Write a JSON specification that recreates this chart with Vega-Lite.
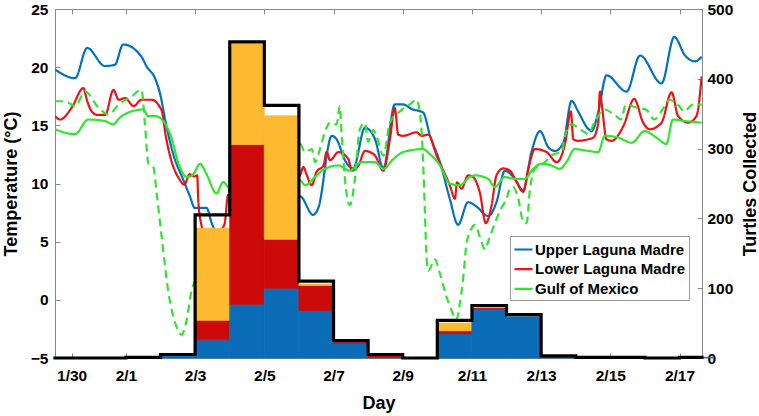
{
  "$schema": "https://vega.github.io/schema/vega-lite/v6.json",
  "width": 647,
  "height": 349,
  "autosize": {"type": "none"},
  "padding": {"left": 55, "top": 9, "right": 57, "bottom": 58},
  "config": {
    "font": "Liberation Sans",
    "view": {"stroke": "#888888", "strokeWidth": 1},
    "axis": {
      "domainColor": "#888888",
      "tickColor": "#888888",
      "labelColor": "#000000",
      "labelFont": "Liberation Sans",
      "labelFontWeight": "bold",
      "labelFontSize": 15.5,
      "titleFont": "Liberation Sans",
      "titleFontWeight": "bold",
      "titleFontSize": 18,
      "titleColor": "#000000",
      "grid": false,
      "tickSize": -5
    }
  },
  "datasets": {
    "temps": [
      {"s": "Upper Laguna Madre", "d": -1.05, "t": 19.8},
      {"s": "Upper Laguna Madre", "d": -0.47, "t": 19.05},
      {"s": "Upper Laguna Madre", "d": -0.12, "t": 21.65},
      {"s": "Upper Laguna Madre", "d": 0.39, "t": 20.1},
      {"s": "Upper Laguna Madre", "d": 0.68, "t": 20.2},
      {"s": "Upper Laguna Madre", "d": 0.92, "t": 21.95},
      {"s": "Upper Laguna Madre", "d": 1.45, "t": 20.9},
      {"s": "Upper Laguna Madre", "d": 1.6, "t": 20.05},
      {"s": "Upper Laguna Madre", "d": 1.84, "t": 19.05},
      {"s": "Upper Laguna Madre", "d": 1.98, "t": 17.8},
      {"s": "Upper Laguna Madre", "d": 2.18, "t": 14.8},
      {"s": "Upper Laguna Madre", "d": 2.37, "t": 12.5},
      {"s": "Upper Laguna Madre", "d": 2.66, "t": 10.3},
      {"s": "Upper Laguna Madre", "d": 2.85, "t": 8.9},
      {"s": "Upper Laguna Madre", "d": 2.99, "t": 7.9},
      {"s": "Upper Laguna Madre", "d": 3.33, "t": 7.9},
      {"s": "Upper Laguna Madre", "d": 3.48, "t": 6.6},
      {"s": "Upper Laguna Madre", "d": 3.7, "t": 5.3},
      {"s": "Upper Laguna Madre", "d": 4.5, "t": 4.5},
      {"s": "Upper Laguna Madre", "d": 5.5, "t": 6.0},
      {"s": "Upper Laguna Madre", "d": 6.03, "t": 8.9},
      {"s": "Upper Laguna Madre", "d": 6.41, "t": 7.3},
      {"s": "Upper Laguna Madre", "d": 6.56, "t": 7.9},
      {"s": "Upper Laguna Madre", "d": 6.95, "t": 14.1},
      {"s": "Upper Laguna Madre", "d": 7.09, "t": 13.8},
      {"s": "Upper Laguna Madre", "d": 7.33, "t": 12.0},
      {"s": "Upper Laguna Madre", "d": 7.57, "t": 11.3},
      {"s": "Upper Laguna Madre", "d": 7.91, "t": 14.8},
      {"s": "Upper Laguna Madre", "d": 8.2, "t": 13.8},
      {"s": "Upper Laguna Madre", "d": 8.44, "t": 11.3},
      {"s": "Upper Laguna Madre", "d": 8.77, "t": 16.8},
      {"s": "Upper Laguna Madre", "d": 9.01, "t": 16.8},
      {"s": "Upper Laguna Madre", "d": 9.26, "t": 16.4},
      {"s": "Upper Laguna Madre", "d": 9.59, "t": 16.1},
      {"s": "Upper Laguna Madre", "d": 9.79, "t": 14.1},
      {"s": "Upper Laguna Madre", "d": 10.08, "t": 11.8},
      {"s": "Upper Laguna Madre", "d": 10.36, "t": 8.7},
      {"s": "Upper Laguna Madre", "d": 10.6, "t": 6.45},
      {"s": "Upper Laguna Madre", "d": 10.89, "t": 8.4},
      {"s": "Upper Laguna Madre", "d": 11.14, "t": 8.0},
      {"s": "Upper Laguna Madre", "d": 11.47, "t": 7.2},
      {"s": "Upper Laguna Madre", "d": 11.71, "t": 8.4},
      {"s": "Upper Laguna Madre", "d": 11.95, "t": 11.1},
      {"s": "Upper Laguna Madre", "d": 12.24, "t": 10.4},
      {"s": "Upper Laguna Madre", "d": 12.48, "t": 9.4},
      {"s": "Upper Laguna Madre", "d": 12.72, "t": 12.7},
      {"s": "Upper Laguna Madre", "d": 12.97, "t": 14.5},
      {"s": "Upper Laguna Madre", "d": 13.21, "t": 13.1},
      {"s": "Upper Laguna Madre", "d": 13.4, "t": 12.8},
      {"s": "Upper Laguna Madre", "d": 13.64, "t": 13.5},
      {"s": "Upper Laguna Madre", "d": 13.88, "t": 17.1},
      {"s": "Upper Laguna Madre", "d": 14.07, "t": 16.2},
      {"s": "Upper Laguna Madre", "d": 14.36, "t": 14.7},
      {"s": "Upper Laguna Madre", "d": 14.46, "t": 14.5},
      {"s": "Upper Laguna Madre", "d": 14.65, "t": 16.1},
      {"s": "Upper Laguna Madre", "d": 14.89, "t": 19.3},
      {"s": "Upper Laguna Madre", "d": 15.47, "t": 17.9},
      {"s": "Upper Laguna Madre", "d": 15.86, "t": 21.0},
      {"s": "Upper Laguna Madre", "d": 16.48, "t": 18.6},
      {"s": "Upper Laguna Madre", "d": 16.85, "t": 22.6},
      {"s": "Upper Laguna Madre", "d": 17.16, "t": 21.0},
      {"s": "Upper Laguna Madre", "d": 17.45, "t": 20.5},
      {"s": "Upper Laguna Madre", "d": 17.64, "t": 20.9},

      {"s": "Lower Laguna Madre", "d": -1.05, "t": 15.8},
      {"s": "Lower Laguna Madre", "d": -0.9, "t": 15.5},
      {"s": "Lower Laguna Madre", "d": -0.57, "t": 16.5},
      {"s": "Lower Laguna Madre", "d": -0.23, "t": 18.2},
      {"s": "Lower Laguna Madre", "d": -0.13, "t": 17.2},
      {"s": "Lower Laguna Madre", "d": -0.03, "t": 16.4},
      {"s": "Lower Laguna Madre", "d": 0.16, "t": 15.9},
      {"s": "Lower Laguna Madre", "d": 0.4, "t": 15.9},
      {"s": "Lower Laguna Madre", "d": 0.64, "t": 18.05},
      {"s": "Lower Laguna Madre", "d": 0.79, "t": 17.2},
      {"s": "Lower Laguna Madre", "d": 0.98, "t": 17.35},
      {"s": "Lower Laguna Madre", "d": 1.22, "t": 16.65},
      {"s": "Lower Laguna Madre", "d": 1.45, "t": 17.2},
      {"s": "Lower Laguna Madre", "d": 1.74, "t": 17.2},
      {"s": "Lower Laguna Madre", "d": 2.03, "t": 16.3},
      {"s": "Lower Laguna Madre", "d": 2.15, "t": 14.1},
      {"s": "Lower Laguna Madre", "d": 2.3, "t": 12.1},
      {"s": "Lower Laguna Madre", "d": 2.54, "t": 10.4},
      {"s": "Lower Laguna Madre", "d": 2.69, "t": 9.9},
      {"s": "Lower Laguna Madre", "d": 2.84, "t": 10.8},
      {"s": "Lower Laguna Madre", "d": 2.98, "t": 10.6},
      {"s": "Lower Laguna Madre", "d": 3.06, "t": 10.7},
      {"s": "Lower Laguna Madre", "d": 3.09, "t": 8.6},
      {"s": "Lower Laguna Madre", "d": 3.17, "t": 6.6},
      {"s": "Lower Laguna Madre", "d": 3.4, "t": 5.0},
      {"s": "Lower Laguna Madre", "d": 3.85, "t": 6.5},
      {"s": "Lower Laguna Madre", "d": 3.95, "t": 9.0},
      {"s": "Lower Laguna Madre", "d": 4.5, "t": 8.0},
      {"s": "Lower Laguna Madre", "d": 5.5, "t": 9.5},
      {"s": "Lower Laguna Madre", "d": 6.03, "t": 10.7},
      {"s": "Lower Laguna Madre", "d": 6.13, "t": 11.4},
      {"s": "Lower Laguna Madre", "d": 6.23, "t": 10.7},
      {"s": "Lower Laguna Madre", "d": 6.37, "t": 9.85},
      {"s": "Lower Laguna Madre", "d": 6.51, "t": 11.0},
      {"s": "Lower Laguna Madre", "d": 6.71, "t": 11.55},
      {"s": "Lower Laguna Madre", "d": 6.8, "t": 12.7},
      {"s": "Lower Laguna Madre", "d": 6.9, "t": 12.0},
      {"s": "Lower Laguna Madre", "d": 7.14, "t": 12.7},
      {"s": "Lower Laguna Madre", "d": 7.43, "t": 12.1},
      {"s": "Lower Laguna Madre", "d": 7.53, "t": 11.1},
      {"s": "Lower Laguna Madre", "d": 7.72, "t": 11.55},
      {"s": "Lower Laguna Madre", "d": 7.91, "t": 12.8},
      {"s": "Lower Laguna Madre", "d": 8.05, "t": 12.7},
      {"s": "Lower Laguna Madre", "d": 8.2, "t": 12.4},
      {"s": "Lower Laguna Madre", "d": 8.44, "t": 11.1},
      {"s": "Lower Laguna Madre", "d": 8.63, "t": 13.8},
      {"s": "Lower Laguna Madre", "d": 8.77, "t": 16.5},
      {"s": "Lower Laguna Madre", "d": 8.87, "t": 14.2},
      {"s": "Lower Laguna Madre", "d": 9.01, "t": 14.1},
      {"s": "Lower Laguna Madre", "d": 9.4, "t": 14.4},
      {"s": "Lower Laguna Madre", "d": 9.55, "t": 14.1},
      {"s": "Lower Laguna Madre", "d": 9.74, "t": 14.2},
      {"s": "Lower Laguna Madre", "d": 9.98, "t": 12.4},
      {"s": "Lower Laguna Madre", "d": 10.36, "t": 9.85},
      {"s": "Lower Laguna Madre", "d": 10.51, "t": 8.7},
      {"s": "Lower Laguna Madre", "d": 10.57, "t": 10.1},
      {"s": "Lower Laguna Madre", "d": 10.7, "t": 9.56},
      {"s": "Lower Laguna Madre", "d": 10.89, "t": 10.7},
      {"s": "Lower Laguna Madre", "d": 11.04, "t": 10.55},
      {"s": "Lower Laguna Madre", "d": 11.13, "t": 10.1},
      {"s": "Lower Laguna Madre", "d": 11.23, "t": 9.2},
      {"s": "Lower Laguna Madre", "d": 11.4, "t": 6.6},
      {"s": "Lower Laguna Madre", "d": 11.57, "t": 8.15},
      {"s": "Lower Laguna Madre", "d": 11.71, "t": 10.7},
      {"s": "Lower Laguna Madre", "d": 11.9, "t": 11.3},
      {"s": "Lower Laguna Madre", "d": 12.1, "t": 11.1},
      {"s": "Lower Laguna Madre", "d": 12.29, "t": 10.13},
      {"s": "Lower Laguna Madre", "d": 12.48, "t": 9.28},
      {"s": "Lower Laguna Madre", "d": 12.63, "t": 11.26},
      {"s": "Lower Laguna Madre", "d": 12.82, "t": 12.96},
      {"s": "Lower Laguna Madre", "d": 13.16, "t": 12.7},
      {"s": "Lower Laguna Madre", "d": 13.45, "t": 11.83},
      {"s": "Lower Laguna Madre", "d": 13.69, "t": 13.4},
      {"s": "Lower Laguna Madre", "d": 13.86, "t": 16.2},
      {"s": "Lower Laguna Madre", "d": 13.93, "t": 13.8},
      {"s": "Lower Laguna Madre", "d": 14.07, "t": 13.67},
      {"s": "Lower Laguna Madre", "d": 14.36, "t": 13.8},
      {"s": "Lower Laguna Madre", "d": 14.51, "t": 13.95},
      {"s": "Lower Laguna Madre", "d": 14.65, "t": 15.23},
      {"s": "Lower Laguna Madre", "d": 14.7, "t": 17.9},
      {"s": "Lower Laguna Madre", "d": 14.75, "t": 16.9},
      {"s": "Lower Laguna Madre", "d": 14.89, "t": 13.8},
      {"s": "Lower Laguna Madre", "d": 15.04, "t": 13.67},
      {"s": "Lower Laguna Madre", "d": 15.38, "t": 14.95},
      {"s": "Lower Laguna Madre", "d": 15.69, "t": 17.27},
      {"s": "Lower Laguna Madre", "d": 15.95, "t": 15.23},
      {"s": "Lower Laguna Madre", "d": 16.14, "t": 14.66},
      {"s": "Lower Laguna Madre", "d": 16.48, "t": 15.23},
      {"s": "Lower Laguna Madre", "d": 16.77, "t": 17.84},
      {"s": "Lower Laguna Madre", "d": 16.96, "t": 15.8},
      {"s": "Lower Laguna Madre", "d": 17.25, "t": 15.23},
      {"s": "Lower Laguna Madre", "d": 17.49, "t": 15.8},
      {"s": "Lower Laguna Madre", "d": 17.64, "t": 19.2},

      {"s": "Gulf of Mexico", "d": -1.05, "t": 14.66},
      {"s": "Gulf of Mexico", "d": -0.47, "t": 14.24},
      {"s": "Gulf of Mexico", "d": -0.09, "t": 15.5},
      {"s": "Gulf of Mexico", "d": 0.39, "t": 15.37},
      {"s": "Gulf of Mexico", "d": 0.63, "t": 15.08},
      {"s": "Gulf of Mexico", "d": 0.82, "t": 15.65},
      {"s": "Gulf of Mexico", "d": 1.16, "t": 16.2},
      {"s": "Gulf of Mexico", "d": 1.5, "t": 16.36},
      {"s": "Gulf of Mexico", "d": 1.64, "t": 15.8},
      {"s": "Gulf of Mexico", "d": 1.84, "t": 15.8},
      {"s": "Gulf of Mexico", "d": 2.08, "t": 15.37},
      {"s": "Gulf of Mexico", "d": 2.28, "t": 14.24},
      {"s": "Gulf of Mexico", "d": 2.56, "t": 11.4},
      {"s": "Gulf of Mexico", "d": 2.76, "t": 10.55},
      {"s": "Gulf of Mexico", "d": 2.95, "t": 10.8},
      {"s": "Gulf of Mexico", "d": 3.14, "t": 11.7},
      {"s": "Gulf of Mexico", "d": 3.33, "t": 10.8},
      {"s": "Gulf of Mexico", "d": 3.62, "t": 9.14},
      {"s": "Gulf of Mexico", "d": 3.81, "t": 10.13},
      {"s": "Gulf of Mexico", "d": 3.95, "t": 9.7},
      {"s": "Gulf of Mexico", "d": 4.5, "t": 9.0},
      {"s": "Gulf of Mexico", "d": 5.5, "t": 10.0},
      {"s": "Gulf of Mexico", "d": 6.03, "t": 10.27},
      {"s": "Gulf of Mexico", "d": 6.18, "t": 9.85},
      {"s": "Gulf of Mexico", "d": 6.46, "t": 10.55},
      {"s": "Gulf of Mexico", "d": 6.75, "t": 11.26},
      {"s": "Gulf of Mexico", "d": 7.14, "t": 11.55},
      {"s": "Gulf of Mexico", "d": 7.47, "t": 11.1},
      {"s": "Gulf of Mexico", "d": 7.81, "t": 11.83},
      {"s": "Gulf of Mexico", "d": 8.2, "t": 11.83},
      {"s": "Gulf of Mexico", "d": 8.44, "t": 11.26},
      {"s": "Gulf of Mexico", "d": 8.73, "t": 12.1},
      {"s": "Gulf of Mexico", "d": 9.01, "t": 12.7},
      {"s": "Gulf of Mexico", "d": 9.59, "t": 12.96},
      {"s": "Gulf of Mexico", "d": 9.79, "t": 12.5},
      {"s": "Gulf of Mexico", "d": 10.08, "t": 11.55},
      {"s": "Gulf of Mexico", "d": 10.36, "t": 9.99},
      {"s": "Gulf of Mexico", "d": 10.65, "t": 9.85},
      {"s": "Gulf of Mexico", "d": 10.94, "t": 10.55},
      {"s": "Gulf of Mexico", "d": 11.09, "t": 10.7},
      {"s": "Gulf of Mexico", "d": 11.47, "t": 10.4},
      {"s": "Gulf of Mexico", "d": 11.66, "t": 9.7},
      {"s": "Gulf of Mexico", "d": 11.95, "t": 10.55},
      {"s": "Gulf of Mexico", "d": 12.24, "t": 10.4},
      {"s": "Gulf of Mexico", "d": 12.53, "t": 10.4},
      {"s": "Gulf of Mexico", "d": 12.77, "t": 11.26},
      {"s": "Gulf of Mexico", "d": 13.01, "t": 11.7},
      {"s": "Gulf of Mexico", "d": 13.3, "t": 11.55},
      {"s": "Gulf of Mexico", "d": 13.54, "t": 11.26},
      {"s": "Gulf of Mexico", "d": 13.73, "t": 11.83},
      {"s": "Gulf of Mexico", "d": 13.97, "t": 12.96},
      {"s": "Gulf of Mexico", "d": 14.36, "t": 12.8},
      {"s": "Gulf of Mexico", "d": 14.65, "t": 12.7},
      {"s": "Gulf of Mexico", "d": 14.84, "t": 14.1},
      {"s": "Gulf of Mexico", "d": 15.23, "t": 13.95},
      {"s": "Gulf of Mexico", "d": 15.61, "t": 13.5},
      {"s": "Gulf of Mexico", "d": 16.0, "t": 14.5},
      {"s": "Gulf of Mexico", "d": 16.33, "t": 13.95},
      {"s": "Gulf of Mexico", "d": 16.62, "t": 13.4},
      {"s": "Gulf of Mexico", "d": 16.81, "t": 15.5},
      {"s": "Gulf of Mexico", "d": 17.16, "t": 15.37},
      {"s": "Gulf of Mexico", "d": 17.64, "t": 15.23},

      {"s": "Gulf of Mexico (dashed)", "d": -1.05, "t": 17.07},
      {"s": "Gulf of Mexico (dashed)", "d": -0.76, "t": 17.07},
      {"s": "Gulf of Mexico (dashed)", "d": -0.47, "t": 16.65},
      {"s": "Gulf of Mexico (dashed)", "d": -0.18, "t": 17.9},
      {"s": "Gulf of Mexico (dashed)", "d": 0.21, "t": 16.5},
      {"s": "Gulf of Mexico (dashed)", "d": 0.5, "t": 15.93},
      {"s": "Gulf of Mexico (dashed)", "d": 0.79, "t": 16.78},
      {"s": "Gulf of Mexico (dashed)", "d": 1.17, "t": 17.5},
      {"s": "Gulf of Mexico (dashed)", "d": 1.45, "t": 18.06},
      {"s": "Gulf of Mexico (dashed)", "d": 1.55, "t": 15.08},
      {"s": "Gulf of Mexico (dashed)", "d": 1.65, "t": 11.7},
      {"s": "Gulf of Mexico (dashed)", "d": 1.79, "t": 11.4},
      {"s": "Gulf of Mexico (dashed)", "d": 1.89, "t": 9.1},
      {"s": "Gulf of Mexico (dashed)", "d": 2.03, "t": 5.5},
      {"s": "Gulf of Mexico (dashed)", "d": 2.22, "t": 0.8},
      {"s": "Gulf of Mexico (dashed)", "d": 2.46, "t": -2.3},
      {"s": "Gulf of Mexico (dashed)", "d": 2.61, "t": -3.0},
      {"s": "Gulf of Mexico (dashed)", "d": 2.75, "t": -1.8},
      {"s": "Gulf of Mexico (dashed)", "d": 2.9, "t": 0.8},
      {"s": "Gulf of Mexico (dashed)", "d": 3.2, "t": 2.5},
      {"s": "Gulf of Mexico (dashed)", "d": 3.9, "t": 4.5},
      {"s": "Gulf of Mexico (dashed)", "d": 4.5, "t": 8.0},
      {"s": "Gulf of Mexico (dashed)", "d": 5.5, "t": 11.0},
      {"s": "Gulf of Mexico (dashed)", "d": 6.03, "t": 13.4},
      {"s": "Gulf of Mexico (dashed)", "d": 6.18, "t": 12.7},
      {"s": "Gulf of Mexico (dashed)", "d": 6.37, "t": 12.96},
      {"s": "Gulf of Mexico (dashed)", "d": 6.47, "t": 11.83},
      {"s": "Gulf of Mexico (dashed)", "d": 6.61, "t": 13.0},
      {"s": "Gulf of Mexico (dashed)", "d": 6.75, "t": 14.4},
      {"s": "Gulf of Mexico (dashed)", "d": 6.9, "t": 15.23},
      {"s": "Gulf of Mexico (dashed)", "d": 7.09, "t": 15.08},
      {"s": "Gulf of Mexico (dashed)", "d": 7.18, "t": 16.65},
      {"s": "Gulf of Mexico (dashed)", "d": 7.23, "t": 14.5},
      {"s": "Gulf of Mexico (dashed)", "d": 7.33, "t": 10.4},
      {"s": "Gulf of Mexico (dashed)", "d": 7.47, "t": 8.15},
      {"s": "Gulf of Mexico (dashed)", "d": 7.62, "t": 10.4},
      {"s": "Gulf of Mexico (dashed)", "d": 7.76, "t": 14.66},
      {"s": "Gulf of Mexico (dashed)", "d": 7.91, "t": 15.2},
      {"s": "Gulf of Mexico (dashed)", "d": 8.0, "t": 13.6},
      {"s": "Gulf of Mexico (dashed)", "d": 8.15, "t": 14.6},
      {"s": "Gulf of Mexico (dashed)", "d": 8.24, "t": 14.1},
      {"s": "Gulf of Mexico (dashed)", "d": 8.44, "t": 12.4},
      {"s": "Gulf of Mexico (dashed)", "d": 8.63, "t": 15.23},
      {"s": "Gulf of Mexico (dashed)", "d": 8.92, "t": 16.2},
      {"s": "Gulf of Mexico (dashed)", "d": 9.21, "t": 16.8},
      {"s": "Gulf of Mexico (dashed)", "d": 9.4, "t": 17.2},
      {"s": "Gulf of Mexico (dashed)", "d": 9.5, "t": 16.0},
      {"s": "Gulf of Mexico (dashed)", "d": 9.59, "t": 11.83},
      {"s": "Gulf of Mexico (dashed)", "d": 9.64, "t": 7.58},
      {"s": "Gulf of Mexico (dashed)", "d": 9.69, "t": 3.6},
      {"s": "Gulf of Mexico (dashed)", "d": 9.74, "t": 2.5},
      {"s": "Gulf of Mexico (dashed)", "d": 9.93, "t": 3.48},
      {"s": "Gulf of Mexico (dashed)", "d": 10.08, "t": 2.2},
      {"s": "Gulf of Mexico (dashed)", "d": 10.27, "t": 0.22},
      {"s": "Gulf of Mexico (dashed)", "d": 10.41, "t": -0.9},
      {"s": "Gulf of Mexico (dashed)", "d": 10.55, "t": -1.7},
      {"s": "Gulf of Mexico (dashed)", "d": 10.65, "t": -0.34},
      {"s": "Gulf of Mexico (dashed)", "d": 10.75, "t": 1.9},
      {"s": "Gulf of Mexico (dashed)", "d": 10.84, "t": 4.75},
      {"s": "Gulf of Mexico (dashed)", "d": 10.99, "t": 6.16},
      {"s": "Gulf of Mexico (dashed)", "d": 11.09, "t": 6.45},
      {"s": "Gulf of Mexico (dashed)", "d": 11.23, "t": 5.4},
      {"s": "Gulf of Mexico (dashed)", "d": 11.38, "t": 4.33},
      {"s": "Gulf of Mexico (dashed)", "d": 11.47, "t": 5.0},
      {"s": "Gulf of Mexico (dashed)", "d": 11.61, "t": 6.16},
      {"s": "Gulf of Mexico (dashed)", "d": 11.8, "t": 7.6},
      {"s": "Gulf of Mexico (dashed)", "d": 12.0, "t": 8.7},
      {"s": "Gulf of Mexico (dashed)", "d": 12.1, "t": 9.56},
      {"s": "Gulf of Mexico (dashed)", "d": 12.19, "t": 9.7},
      {"s": "Gulf of Mexico (dashed)", "d": 12.34, "t": 8.7},
      {"s": "Gulf of Mexico (dashed)", "d": 12.48, "t": 6.73},
      {"s": "Gulf of Mexico (dashed)", "d": 12.58, "t": 6.6},
      {"s": "Gulf of Mexico (dashed)", "d": 12.68, "t": 9.56},
      {"s": "Gulf of Mexico (dashed)", "d": 12.82, "t": 11.26},
      {"s": "Gulf of Mexico (dashed)", "d": 13.06, "t": 11.7},
      {"s": "Gulf of Mexico (dashed)", "d": 13.35, "t": 12.5},
      {"s": "Gulf of Mexico (dashed)", "d": 13.6, "t": 12.7},
      {"s": "Gulf of Mexico (dashed)", "d": 13.69, "t": 14.1},
      {"s": "Gulf of Mexico (dashed)", "d": 13.88, "t": 15.08},
      {"s": "Gulf of Mexico (dashed)", "d": 14.07, "t": 14.8},
      {"s": "Gulf of Mexico (dashed)", "d": 14.27, "t": 14.38},
      {"s": "Gulf of Mexico (dashed)", "d": 14.36, "t": 14.24},
      {"s": "Gulf of Mexico (dashed)", "d": 14.54, "t": 15.23},
      {"s": "Gulf of Mexico (dashed)", "d": 14.83, "t": 16.36},
      {"s": "Gulf of Mexico (dashed)", "d": 15.16, "t": 15.8},
      {"s": "Gulf of Mexico (dashed)", "d": 15.31, "t": 15.5},
      {"s": "Gulf of Mexico (dashed)", "d": 15.45, "t": 16.78},
      {"s": "Gulf of Mexico (dashed)", "d": 15.79, "t": 16.5},
      {"s": "Gulf of Mexico (dashed)", "d": 16.03, "t": 16.36},
      {"s": "Gulf of Mexico (dashed)", "d": 16.27, "t": 15.5},
      {"s": "Gulf of Mexico (dashed)", "d": 16.51, "t": 16.36},
      {"s": "Gulf of Mexico (dashed)", "d": 16.71, "t": 17.2},
      {"s": "Gulf of Mexico (dashed)", "d": 16.95, "t": 16.78},
      {"s": "Gulf of Mexico (dashed)", "d": 17.14, "t": 16.2},
      {"s": "Gulf of Mexico (dashed)", "d": 17.38, "t": 16.78},
      {"s": "Gulf of Mexico (dashed)", "d": 17.64, "t": 16.78}
    ],
    "bars": [
      {"d0": 1, "d1": 2, "g": "Group A", "k": 1, "n": 1},
      {"d0": 2, "d1": 3, "g": "Group A", "k": 1, "n": 4},
      {"d0": 3, "d1": 4, "g": "Group A", "k": 1, "n": 26},
      {"d0": 3, "d1": 4, "g": "Group B", "k": 2, "n": 28},
      {"d0": 3, "d1": 4, "g": "Group C", "k": 3, "n": 132},
      {"d0": 4, "d1": 5, "g": "Group A", "k": 1, "n": 77},
      {"d0": 4, "d1": 5, "g": "Group B", "k": 2, "n": 229},
      {"d0": 4, "d1": 5, "g": "Group C", "k": 3, "n": 144},
      {"d0": 5, "d1": 6, "g": "Group A", "k": 1, "n": 100},
      {"d0": 5, "d1": 6, "g": "Group B", "k": 2, "n": 70},
      {"d0": 5, "d1": 6, "g": "Group C", "k": 3, "n": 177},
      {"d0": 6, "d1": 7, "g": "Group A", "k": 1, "n": 68},
      {"d0": 6, "d1": 7, "g": "Group B", "k": 2, "n": 36},
      {"d0": 6, "d1": 7, "g": "Group C", "k": 3, "n": 2},
      {"d0": 7, "d1": 8, "g": "Group A", "k": 1, "n": 21},
      {"d0": 7, "d1": 8, "g": "Group B", "k": 2, "n": 1},
      {"d0": 8, "d1": 9, "g": "Group A", "k": 1, "n": 1},
      {"d0": 8, "d1": 9, "g": "Group B", "k": 2, "n": 2},
      {"d0": 10, "d1": 11, "g": "Group A", "k": 1, "n": 35},
      {"d0": 10, "d1": 11, "g": "Group B", "k": 2, "n": 4},
      {"d0": 10, "d1": 11, "g": "Group C", "k": 3, "n": 11},
      {"d0": 11, "d1": 12, "g": "Group A", "k": 1, "n": 70},
      {"d0": 11, "d1": 12, "g": "Group B", "k": 2, "n": 1},
      {"d0": 12, "d1": 13, "g": "Group A", "k": 1, "n": 59},
      {"d0": 13, "d1": 14, "g": "Group A", "k": 1, "n": 2},
      {"d0": 13, "d1": 14, "g": "Group B", "k": 2, "n": 1},
      {"d0": 14, "d1": 15, "g": "Group A", "k": 1, "n": 1},
      {"d0": 15, "d1": 16, "g": "Group A", "k": 1, "n": 1},
      {"d0": 17, "d1": 18, "g": "Group A", "k": 1, "n": 1}
    ],
    "totals": [
      {"d": -1.05, "n": 0},
      {"d": 1, "n": 1},
      {"d": 2, "n": 5},
      {"d": 3, "n": 205},
      {"d": 4, "n": 453},
      {"d": 5, "n": 362},
      {"d": 6, "n": 110},
      {"d": 7, "n": 25},
      {"d": 8, "n": 5},
      {"d": 9, "n": 0},
      {"d": 10, "n": 54},
      {"d": 11, "n": 75},
      {"d": 12, "n": 62},
      {"d": 13, "n": 3},
      {"d": 14, "n": 1},
      {"d": 15, "n": 1},
      {"d": 16, "n": 0},
      {"d": 17, "n": 1},
      {"d": 17.65, "n": 1}
    ]
  },
  "layer": [
    {
      "data": {"name": "temps"},
      "mark": {"type": "line", "strokeWidth": 2.2, "clip": true, "interpolate": "monotone"},
      "encoding": {
        "x": {
          "field": "d", "type": "quantitative",
          "scale": {"domain": [-1.05, 17.65], "nice": false, "zero": false},
          "axis": {
            "orient": "bottom",
            "values": [-0.57, 1, 3, 5, 7, 9, 11, 13, 15, 17],
            "labelExpr": "datum.value < 0 ? '1/30' : '2/' + datum.value",
            "labelPadding": 15,
            "title": "Day",
            "titlePadding": 11
          }
        },
        "y": {
          "field": "t", "type": "quantitative",
          "scale": {"domain": [-5, 25], "nice": false, "zero": false},
          "axis": {
            "orient": "left",
            "values": [-5, 0, 5, 10, 15, 20, 25],
            "labelPadding": 12,
            "title": "Temperature (°C)",
            "titlePadding": 10
          }
        },
        "color": {
          "field": "s", "type": "nominal",
          "scale": {
            "domain": ["Upper Laguna Madre", "Lower Laguna Madre", "Gulf of Mexico", "Gulf of Mexico (dashed)"],
            "range": ["#0072BD", "#F01010", "#2EE62E", "#2EE62E"]
          },
          "legend": {
            "values": ["Upper Laguna Madre", "Lower Laguna Madre", "Gulf of Mexico"],
            "orient": "none",
            "legendX": 455,
            "legendY": 227,
            "title": null,
            "symbolType": "stroke",
            "symbolStrokeWidth": 2.2,
            "symbolSize": 324,
            "labelFont": "Liberation Sans",
            "labelFontSize": 15,
            "labelFontWeight": "bold",
            "labelColor": "#000000",
            "strokeColor": "#999999",
            "fillColor": "#ffffff",
            "padding": 3,
            "rowPadding": 0.7,
            "labelOffset": 1
          }
        },
        "strokeDash": {
          "field": "s", "type": "nominal",
          "scale": {
            "domain": ["Upper Laguna Madre", "Lower Laguna Madre", "Gulf of Mexico", "Gulf of Mexico (dashed)"],
            "range": [[1, 0], [1, 0], [1, 0], [8, 5]]
          },
          "legend": null
        }
      }
    },
    {
      "data": {"name": "bars"},
      "transform": [
        {"stack": "n", "groupby": ["d0"], "sort": [{"field": "k", "order": "ascending"}], "as": ["c0", "c1"]}
      ],
      "mark": {"type": "bar", "strokeWidth": 0.8},
      "encoding": {
        "x": {
          "field": "d0", "type": "quantitative",
          "scale": {"domain": [-1.05, 17.65], "nice": false, "zero": false},
          "axis": {
            "orient": "top",
            "values": [-0.57, 1, 3, 5, 7, 9, 11, 13, 15, 17],
            "labels": false,
            "title": null
          }
        },
        "x2": {"field": "d1"},
        "y": {
          "field": "c0", "type": "quantitative",
          "scale": {"domain": [0, 500], "nice": false, "zero": true},
          "axis": {
            "orient": "right",
            "values": [0, 100, 200, 300, 400, 500],
            "labelPadding": 10,
            "title": "Turtles Collected",
            "titleAngle": 270,
            "titlePadding": 27
          }
        },
        "y2": {"field": "c1"},
        "color": {
          "field": "g", "type": "nominal",
          "scale": {"domain": ["Group A", "Group B", "Group C"], "range": ["#0B6DB7", "#CC0A0A", "#FDBA30"]},
          "legend": null
        },
        "stroke": {
          "field": "g", "type": "nominal",
          "scale": {"domain": ["Group A", "Group B", "Group C"], "range": ["#0B6DB7", "#CC0A0A", "#FDBA30"]},
          "legend": null
        }
      }
    },
    {
      "data": {"name": "totals"},
      "mark": {"type": "line", "interpolate": "step-after", "color": "#000000", "strokeWidth": 3.2, "strokeJoin": "miter", "strokeCap": "square"},
      "encoding": {
        "x": {"field": "d", "type": "quantitative", "scale": {"domain": [-1.05, 17.65], "nice": false, "zero": false}, "axis": null},
        "y": {"field": "n", "type": "quantitative", "scale": {"domain": [0, 500], "nice": false}, "axis": null}
      }
    }
  ],
  "resolve": {
    "scale": {"y": "independent", "color": "independent", "strokeDash": "independent", "stroke": "independent"},
    "axis": {"x": "independent", "y": "independent"}
  }
}
